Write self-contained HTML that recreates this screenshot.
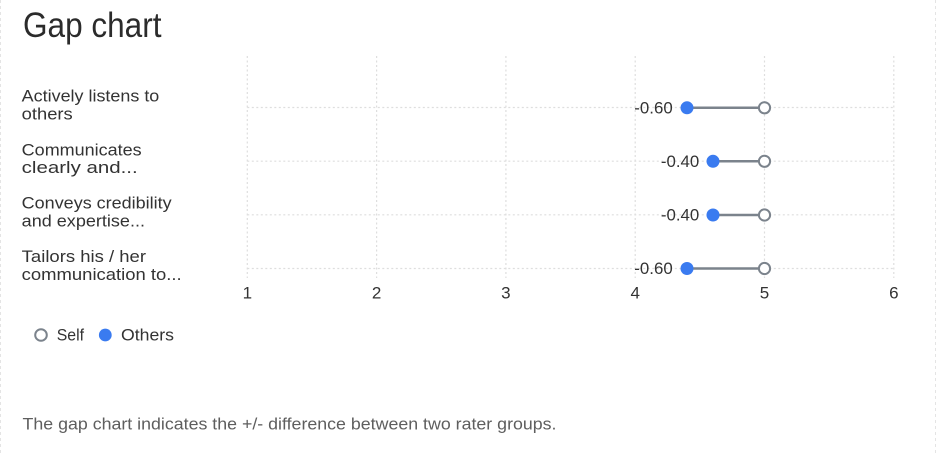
<!DOCTYPE html>
<html>
<head>
<meta charset="utf-8">
<style>
html,body{margin:0;padding:0;background:#fff;}
svg{display:block;}
text{font-family:"Liberation Sans",sans-serif;}
</style>
</head>
<body>
<svg width="936" height="456" viewBox="0 0 936 456" xmlns="http://www.w3.org/2000/svg">
  <rect x="0" y="0" width="936" height="456" fill="#ffffff"/>
  <!-- faint dashed borders -->
  <line x1="0.5" y1="0" x2="0.5" y2="456" stroke="#e4e4e4" stroke-width="1" stroke-dasharray="3,3"/>
  <line x1="935.5" y1="0" x2="935.5" y2="456" stroke="#e4e4e4" stroke-width="1" stroke-dasharray="3,3"/>

  <!-- title -->
  <text x="23" y="37" font-size="35" fill="#2b2b2b" textLength="138.5" lengthAdjust="spacingAndGlyphs">Gap chart</text>

  <!-- grid -->
  <g stroke="#dedede" stroke-width="1.2" stroke-dasharray="2,2.5" fill="none">
    <line x1="247.3" y1="56" x2="247.3" y2="278"/>
    <line x1="376.6" y1="56" x2="376.6" y2="278"/>
    <line x1="505.9" y1="56" x2="505.9" y2="278"/>
    <line x1="635.2" y1="56" x2="635.2" y2="278"/>
    <line x1="764.5" y1="56" x2="764.5" y2="278"/>
    <line x1="893.8" y1="56" x2="893.8" y2="278"/>
    <line x1="247.3" y1="107.5" x2="893.8" y2="107.5"/>
    <line x1="247.3" y1="161.2" x2="893.8" y2="161.2"/>
    <line x1="247.3" y1="214.8" x2="893.8" y2="214.8"/>
    <line x1="247.3" y1="268.5" x2="893.8" y2="268.5"/>
  </g>

  <!-- y labels -->
  <g font-size="17" fill="#333">
    <text x="21.7" y="101.7" textLength="137.6" lengthAdjust="spacingAndGlyphs">Actively listens to</text>
    <text x="21.7" y="119.3" textLength="51" lengthAdjust="spacingAndGlyphs">others</text>
    <text x="21.7" y="155.4" textLength="120" lengthAdjust="spacingAndGlyphs">Communicates</text>
    <text x="21.7" y="173" textLength="116" lengthAdjust="spacingAndGlyphs">clearly and...</text>
    <text x="21.7" y="208.6" textLength="150" lengthAdjust="spacingAndGlyphs">Conveys credibility</text>
    <text x="21.7" y="226.7" textLength="123.3" lengthAdjust="spacingAndGlyphs">and expertise...</text>
    <text x="21.7" y="261.8" textLength="124.3" lengthAdjust="spacingAndGlyphs">Tailors his / her</text>
    <text x="21.7" y="280.2" textLength="160" lengthAdjust="spacingAndGlyphs">communication to...</text>
  </g>

  <!-- x tick labels -->
  <g font-size="17" fill="#333" text-anchor="middle">
    <text x="247.3" y="298.5">1</text>
    <text x="376.6" y="298.5">2</text>
    <text x="505.9" y="298.5">3</text>
    <text x="635.2" y="298.5">4</text>
    <text x="764.5" y="298.5">5</text>
    <text x="893.8" y="298.5">6</text>
  </g>

  <!-- series -->
  <g stroke="#7b838c" stroke-width="2.5">
    <line x1="687" y1="107.8" x2="764.5" y2="107.8"/>
    <line x1="713" y1="161.3" x2="764.5" y2="161.3"/>
    <line x1="713" y1="215" x2="764.5" y2="215"/>
    <line x1="687" y1="268.5" x2="764.5" y2="268.5"/>
  </g>
  <g fill="#3a7bf0">
    <circle cx="687" cy="107.8" r="6.5"/>
    <circle cx="713" cy="161.3" r="6.5"/>
    <circle cx="713" cy="215" r="6.5"/>
    <circle cx="687" cy="268.5" r="6.5"/>
  </g>
  <g fill="#fff" stroke="#7b838c" stroke-width="2">
    <circle cx="764.5" cy="107.8" r="5.6"/>
    <circle cx="764.5" cy="161.3" r="5.6"/>
    <circle cx="764.5" cy="215" r="5.6"/>
    <circle cx="764.5" cy="268.5" r="5.6"/>
  </g>

  <!-- value labels -->
  <g font-size="16.5" fill="#333">
    <text x="634.3" y="113.3" textLength="38.4" lengthAdjust="spacingAndGlyphs">-0.60</text>
    <text x="660.9" y="166.9" textLength="38.4" lengthAdjust="spacingAndGlyphs">-0.40</text>
    <text x="660.9" y="220.6" textLength="38.4" lengthAdjust="spacingAndGlyphs">-0.40</text>
    <text x="634.3" y="274.1" textLength="38.4" lengthAdjust="spacingAndGlyphs">-0.60</text>
  </g>

  <!-- legend -->
  <circle cx="41" cy="335" r="5.8" fill="#fff" stroke="#7b838c" stroke-width="2"/>
  <text x="56.7" y="340.7" font-size="17" fill="#333" textLength="27.3" lengthAdjust="spacingAndGlyphs">Self</text>
  <circle cx="105.3" cy="335" r="6.4" fill="#3a7bf0"/>
  <text x="121" y="340.7" font-size="17" fill="#333" textLength="53" lengthAdjust="spacingAndGlyphs">Others</text>

  <!-- footer -->
  <text x="22.5" y="429.5" font-size="16.5" fill="#5e5e5e" textLength="534" lengthAdjust="spacingAndGlyphs">The gap chart indicates the +/- difference between two rater groups.</text>
</svg>
</body>
</html>
